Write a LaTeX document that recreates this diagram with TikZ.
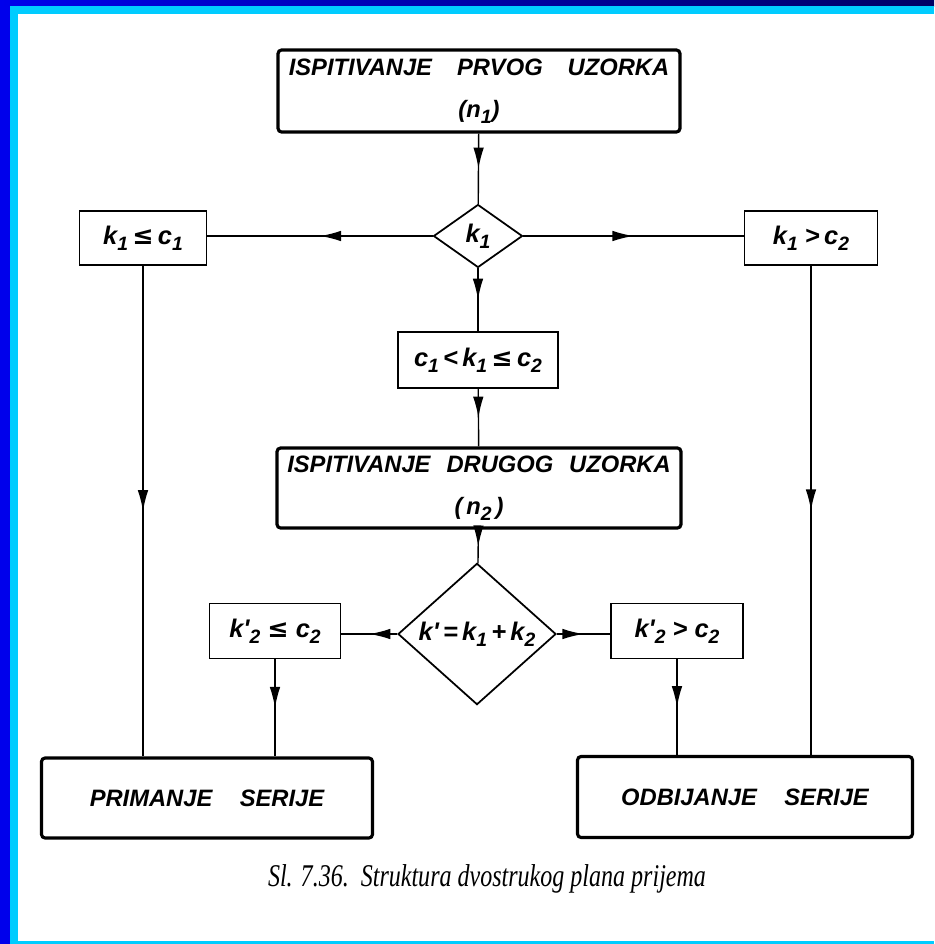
\documentclass[tikz,border=0pt]{standalone}
\usepackage{fontspec}
\setmainfont{Liberation Sans}
\newfontfamily\capfont{Liberation Serif}
\newfontfamily\symf{DejaVu Sans}
\usetikzlibrary{shapes,arrows.meta,calc,positioning,decorations.markings}

\definecolor{frameblue}{RGB}{0,0,235}
\definecolor{framenavy}{RGB}{0,0,100}
\definecolor{framecyan}{RGB}{0,204,255}

\newcommand{\lo}[1]{\raisebox{-0.45ex}{\fontsize{11}{11}\selectfont #1}}
\newcommand{\leqs}{{\symf ≤}}
\newcommand{\prm}{\textquotesingle}

\begin{document}
\begin{tikzpicture}[x=0.02cm, y=-0.02cm,
  every node/.style={font=\bfseries\itshape\fontsize{13.5}{24}\selectfont},
  bigbox/.style={draw, line width=1.8pt, rounded corners=2pt, align=center, inner sep=0pt},
  smallbox/.style={draw, line width=1.1pt, inner sep=0pt, font=\bfseries\itshape\fontsize{14.5}{16}\selectfont},
  decision/.style={draw, diamond, line width=1pt, inner sep=0pt, font=\bfseries\itshape\fontsize{14.5}{16}\selectfont},
  midarrow/.style={line width=0.8pt, postaction={decorate},
    decoration={markings, mark=at position 0.5 with {\arrow{Latex[length=4.2mm,width=2.1mm]}}}}]

  % frame
  \useasboundingbox (0,0) rectangle (934,944);
  \fill[frameblue] (0,0) rectangle (10,944);
  \shade[left color=frameblue, right color=framenavy] (0,0) rectangle (934,6);
  \fill[framecyan] (10,6) rectangle (934,14);
  \fill[framecyan] (10,6) rectangle (18,944);
  \fill[framecyan] (10,941) rectangle (934,944);

  \node [bigbox, minimum width=8.04cm, minimum height=1.64cm] at (479,91) (top)
    {ISPITIVANJE\hspace{0.5cm}PRVOG\hspace{0.5cm}UZORKA\\(n\lo{1})};

  \node [decision, minimum width=1.78cm, minimum height=1.26cm] at (478,236) (d1) {k\lo{1}};

  \node [smallbox, minimum width=2.54cm, minimum height=1.08cm] at (143,238) (lb)
    {k\lo{1}\,\leqs\,c\lo{1}};
  \node [smallbox, minimum width=2.66cm, minimum height=1.08cm] at (811,238) (rb)
    {k\lo{1}\;>\,c\lo{2}};

  \node [smallbox, minimum width=3.2cm, minimum height=1.12cm] at (478,360) (mid)
    {c\lo{1}\,<\,k\lo{1}\,\leqs\,c\lo{2}};

  \node [bigbox, minimum width=8.08cm, minimum height=1.6cm] at (479,488) (n2)
    {ISPITIVANJE\hspace{0.32cm}DRUGOG\hspace{0.32cm}UZORKA\\(\,n\lo{2}\,)};

  \node [decision, minimum width=3.16cm, minimum height=1.82cm] at (477,634) (d2)
    {k\prm\,=\,k\lo{1}\,+\,k\lo{2}};

  \node [smallbox, minimum width=2.62cm, minimum height=1.1cm] at (275,631) (l2)
    {k\prm\lo{2}\;\leqs\;c\lo{2}};
  \node [smallbox, minimum width=2.64cm, minimum height=1.1cm] at (677,631) (r2)
    {k\prm\lo{2}\;>\;c\lo{2}};

  \node [bigbox, minimum width=6.62cm, minimum height=1.6cm] at (207,798) (acc)
    {PRIMANJE\hspace{0.55cm}SERIJE};
  \node [bigbox, minimum width=6.7cm, minimum height=1.62cm] at (745,797) (rej)
    {ODBIJANJE\hspace{0.55cm}SERIJE};

  \node [font=\capfont\itshape\fontsize{18}{18}\selectfont] at (487,879) (cap)
    {\scalebox{0.76}[1]{Sl. 7.36.\ \ Struktura dvostrukog plana prijema}};

  \draw[midarrow] (top) -- (d1);
  \draw[midarrow] (d1.west) -- (d1.west -| lb.east);
  \draw[midarrow] (d1.east) -- (d1.east -| rb.west);
  \draw[midarrow] (d1) -- (mid);
  \draw[midarrow] (mid) -- (n2);
  \draw[midarrow] (n2) -- (d2);
  \draw[midarrow] (d2.west) -- (d2.west -| l2.east);
  \draw[midarrow] (d2.east) -- (d2.east -| r2.west);

  \draw[midarrow] (lb.south) -- (lb.south |- acc.north);
  \draw[midarrow] (l2.south) -- (l2.south |- acc.north);
  \draw[midarrow] (rb.south) -- (rb.south |- rej.north);
  \draw[midarrow] (r2.south) -- (r2.south |- rej.north);

\end{tikzpicture}
\end{document}
